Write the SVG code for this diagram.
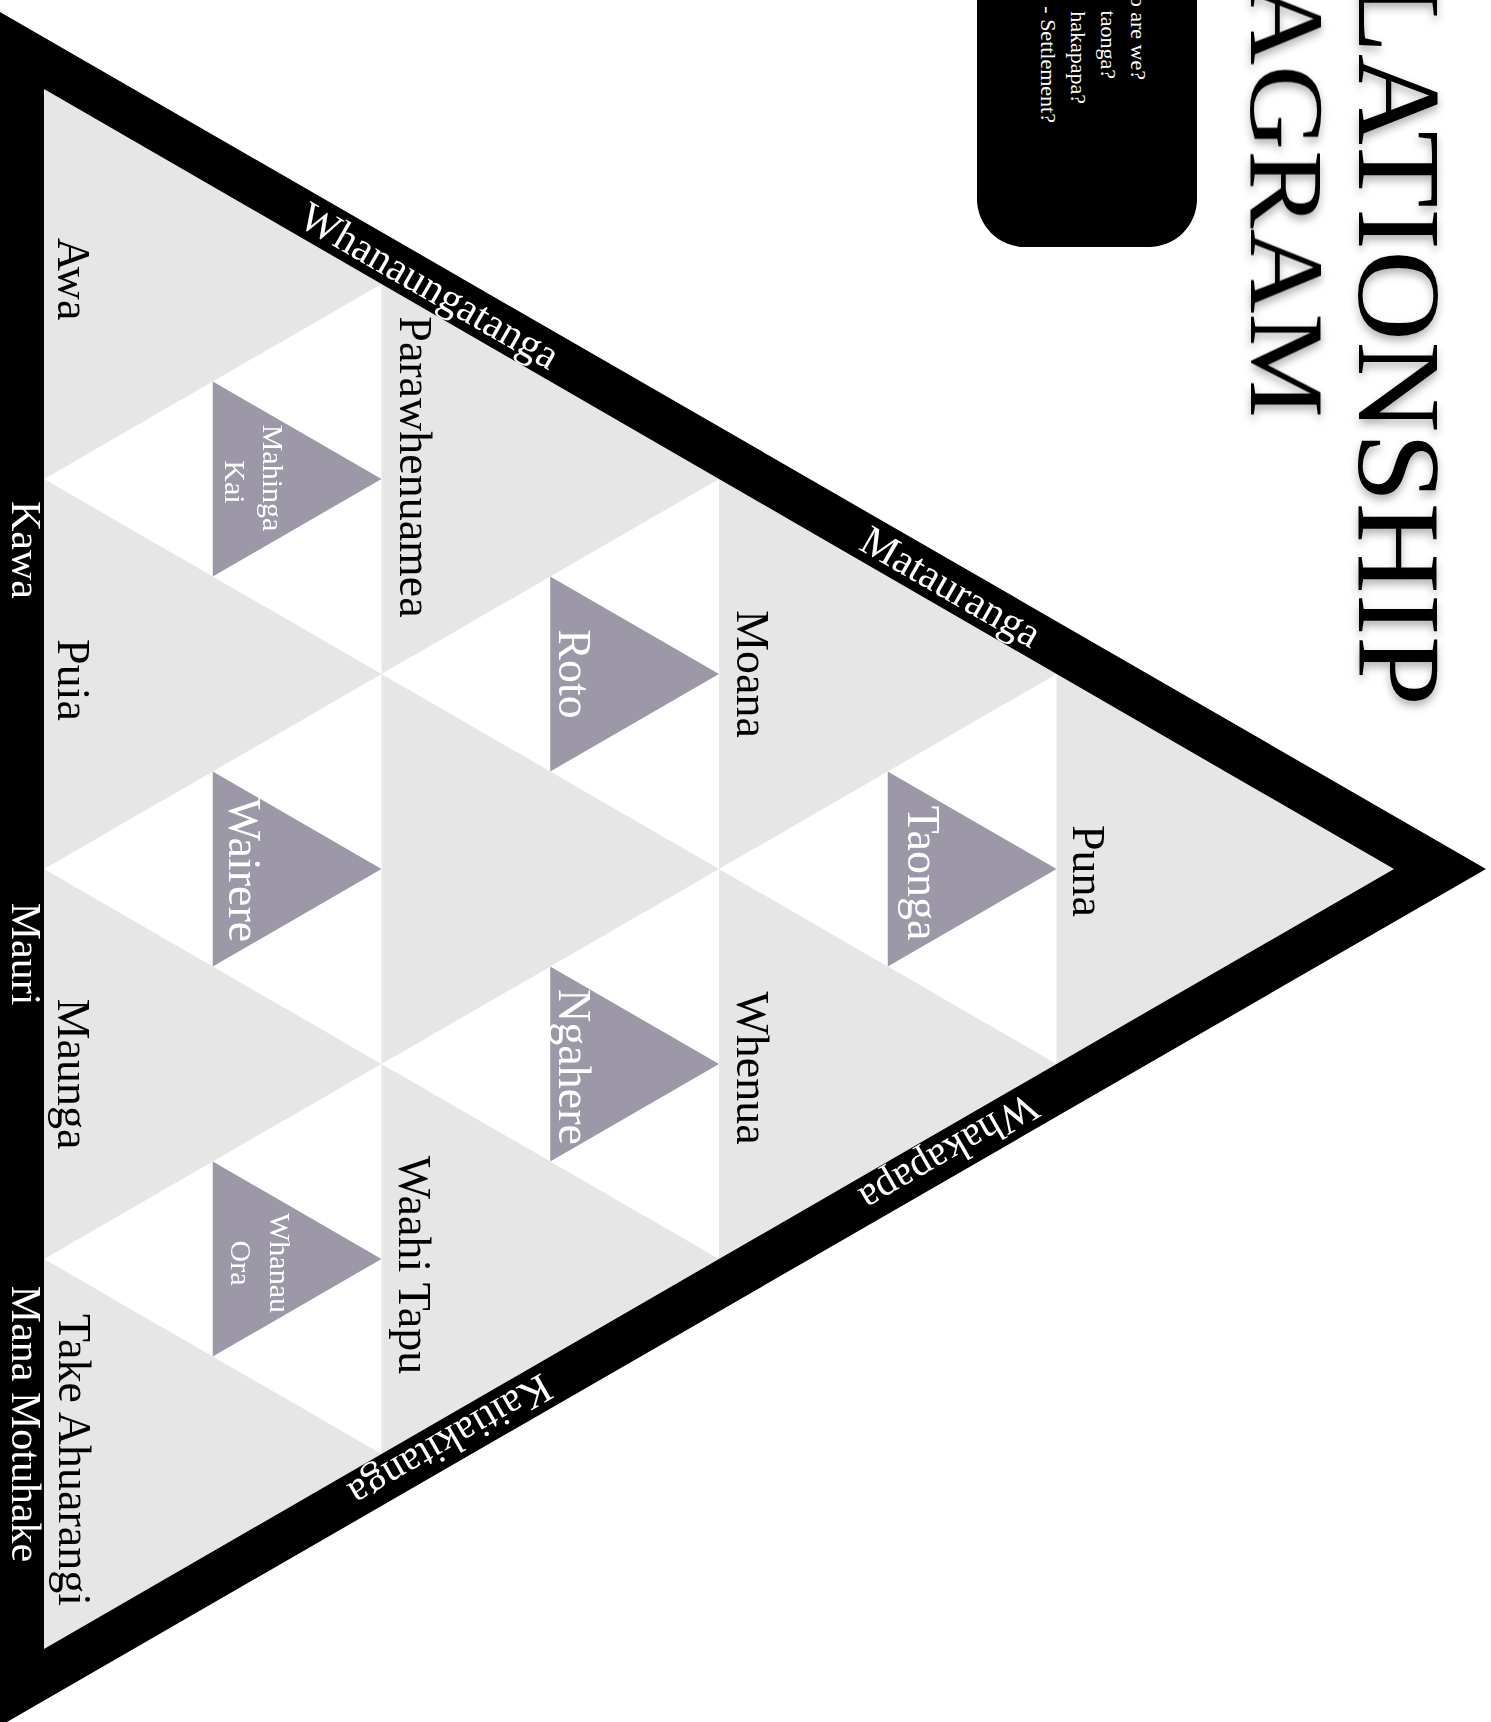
<svg xmlns="http://www.w3.org/2000/svg" width="1491" height="1722" viewBox="0 0 1491 1722">
  <defs>
    <style>
      text { font-family: "Liberation Serif", "Times New Roman", serif; }
      .band { fill: #ffffff; font-size: 42px; text-anchor: middle; }
      .cell { fill: #000000; font-size: 46px; text-anchor: middle; }
      .inner { fill: #ffffff; font-size: 46px; text-anchor: middle; }
      .small { fill: #ffffff; font-size: 30px; text-anchor: middle; }
      .title { fill: #000000; text-anchor: end; }
      .q { fill: #ffffff; font-size: 22px; text-anchor: end; }
      .gray { fill: #e6e6e6; }
      .white { fill: #ffffff; }
      .purple { fill: #9c98a7; }
    </style>
    <filter id="shadow" x="-10%" y="-30%" width="120%" height="160%">
      <feDropShadow dx="0" dy="5" stdDeviation="4" flood-color="#000000" flood-opacity="0.3"/>
    </filter>
  </defs>

  <rect width="1491" height="1722" fill="#ffffff"/>

  <!-- title -->
  <g id="title" filter="url(#shadow)">
    <text class="title" font-size="118" transform="translate(1359,706) rotate(90) scale(1.07,1)">LATIONSHIP</text>
    <text class="title" font-size="106" transform="translate(1251,418) rotate(90) scale(1.11,1)">AGRAM</text>
  </g>

  <!-- question box -->
  <g id="questions">
    <rect x="977" y="-60" width="220" height="307" rx="48" fill="#000000"/>
    <text class="q" transform="translate(1131,80) rotate(90)">o are we?</text>
    <text class="q" transform="translate(1101,79) rotate(90)">taonga?</text>
    <text class="q" transform="translate(1071,104) rotate(90)">hakapapa?</text>
    <text class="q" transform="translate(1041,123) rotate(90)">- Settlement?</text>
  </g>

  <!-- outer frame -->
  <g id="frame">
    <polygon points="0,12 1486,869 0,1726" fill="#000000"/>
    <polygon class="gray" points="44,89 1394,869 44,1649"/>
  </g>

  <!-- white inverted cells -->
  <g id="cells">
    <polygon class="white" points="381.5,284 381.5,674 44,479"/>
    <polygon class="white" points="381.5,674 381.5,1064 44,869"/>
    <polygon class="white" points="381.5,1064 381.5,1454 44,1259"/>
    <polygon class="white" points="719,479 719,869 381.5,674"/>
    <polygon class="white" points="719,869 719,1259 381.5,1064"/>
    <polygon class="white" points="1056.5,674 1056.5,1064 719,869"/>
  </g>

  <!-- band labels -->
  <g id="band-labels">
    <text class="band" transform="translate(0,12) rotate(30)" x="509" y="36">Whanaungatanga</text>
    <text class="band" transform="translate(0,12) rotate(30)" x="1111" y="36">Matauranga</text>
    <text class="band" transform="translate(1486,869) rotate(150)" x="607" y="36">Whakapapa</text>
    <text class="band" transform="translate(1486,869) rotate(150)" x="1183" y="36">Kaitiakitanga</text>
    <text class="band" transform="translate(12,550) rotate(90)">Kawa</text>
    <text class="band" transform="translate(12,954) rotate(90)">Mauri</text>
    <text class="band" transform="translate(12,1424) rotate(90)">Mana Motuhake</text>
  </g>

  <!-- gray cell nodes -->
  <g id="node-awa"><text class="cell" transform="translate(58,279) rotate(90)">Awa</text></g>
  <g id="node-puia"><text class="cell" transform="translate(58,680) rotate(90)">Puia</text></g>
  <g id="node-maunga"><text class="cell" transform="translate(58,1074) rotate(90)">Maunga</text></g>
  <g id="node-take-ahuarangi"><text class="cell" transform="translate(59,1460) rotate(90)">Take Ahuarangi</text></g>
  <g id="node-parawhenuamea"><text class="cell" transform="translate(400,467) rotate(90)">Parawhenuamea</text></g>
  <g id="node-waahi-tapu"><text class="cell" transform="translate(399,1265) rotate(90)">Waahi Tapu</text></g>
  <g id="node-moana"><text class="cell" transform="translate(737,674) rotate(90)">Moana</text></g>
  <g id="node-whenua"><text class="cell" transform="translate(737,1068) rotate(90)">Whenua</text></g>
  <g id="node-puna"><text class="cell" transform="translate(1073,871) rotate(90)">Puna</text></g>

  <!-- purple nodes -->
  <g id="node-mahinga-kai">
    <polygon class="purple" points="212.75,381.5 381.5,479 212.75,576.5"/>
    <text class="small" transform="translate(263,478) rotate(90)">Mahinga</text>
    <text class="small" transform="translate(225,482) rotate(90)">Kai</text>
  </g>
  <g id="node-wairere">
    <polygon class="purple" points="212.75,771.5 381.5,869 212.75,966.5"/>
    <text class="inner" transform="translate(229,870) rotate(90)">Wairere</text>
  </g>
  <g id="node-whanau-ora">
    <polygon class="purple" points="212.75,1161.5 381.5,1259 212.75,1356.5"/>
    <text class="small" transform="translate(270,1263) rotate(90)">Whanau</text>
    <text class="small" transform="translate(231,1263) rotate(90)">Ora</text>
  </g>
  <g id="node-roto">
    <polygon class="purple" points="550.25,576.5 719,674 550.25,771.5"/>
    <text class="inner" transform="translate(559,674) rotate(90)">Roto</text>
  </g>
  <g id="node-ngahere">
    <polygon class="purple" points="550.25,966.5 719,1064 550.25,1161.5"/>
    <text class="inner" transform="translate(559,1067) rotate(90)">Ngahere</text>
  </g>
  <g id="node-taonga">
    <polygon class="purple" points="887.75,771.5 1056.5,869 887.75,966.5"/>
    <text class="inner" transform="translate(908,873) rotate(90)">Taonga</text>
  </g>
</svg>
